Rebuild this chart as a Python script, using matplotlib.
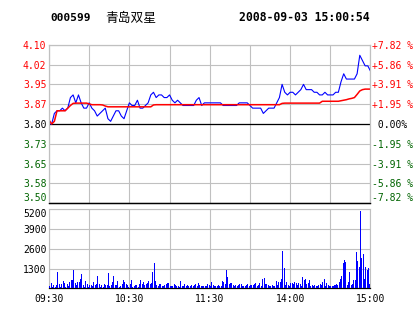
import numpy as np
import matplotlib
matplotlib.use("Agg")
import matplotlib.pyplot as plt

# ---------------- data ----------------
stock_code = "000599"
stock_name = "青岛双星"
stamp = "2008-09-03 15:00:54"
prev_close = 3.80

price_minutes = list(range(0, 241, 2))
price = [3.80, 3.80, 3.84, 3.85, 3.85, 3.86, 3.85, 3.86, 3.90, 3.91,
         3.88, 3.91, 3.88, 3.86, 3.86, 3.88, 3.86, 3.85, 3.83, 3.84,
         3.85, 3.86, 3.82, 3.81, 3.83, 3.85, 3.85, 3.83, 3.82, 3.85,
         3.88, 3.87, 3.87, 3.89, 3.86, 3.86, 3.87, 3.88, 3.91, 3.92,
         3.90, 3.91, 3.91, 3.90, 3.90, 3.91, 3.89, 3.88, 3.89, 3.88,
         3.87, 3.87, 3.87, 3.87, 3.87, 3.89, 3.90, 3.87, 3.88, 3.88,
         3.88, 3.88, 3.88, 3.88, 3.88, 3.87, 3.87, 3.87, 3.87, 3.87,
         3.87, 3.88, 3.88, 3.88, 3.88, 3.87, 3.86, 3.86, 3.86, 3.86,
         3.84, 3.85, 3.86, 3.86, 3.86, 3.88, 3.90, 3.95, 3.92, 3.91,
         3.92, 3.92, 3.91, 3.92, 3.93, 3.95, 3.93, 3.93, 3.93, 3.92,
         3.92, 3.91, 3.91, 3.92, 3.91, 3.91, 3.91, 3.92, 3.92, 3.96,
         3.99, 3.97, 3.97, 3.97, 3.97, 3.99, 4.06, 4.04, 4.02, 4.02,
         4.00]
avg_price = [3.815, 3.80, 3.81, 3.85, 3.85, 3.85, 3.85, 3.86, 3.87, 3.878,
             3.879, 3.879, 3.879, 3.879, 3.879, 3.876, 3.873, 3.873, 3.873, 3.873,
             3.872, 3.868, 3.865, 3.865, 3.865, 3.865, 3.865, 3.865, 3.865, 3.865,
             3.865, 3.865, 3.865, 3.865, 3.865, 3.865, 3.865, 3.865, 3.865, 3.872,
             3.873, 3.873, 3.873, 3.873, 3.873, 3.873, 3.873, 3.873, 3.873, 3.873,
             3.873, 3.873, 3.873, 3.873, 3.873, 3.873, 3.873, 3.873, 3.873, 3.873,
             3.873, 3.873, 3.873, 3.873, 3.873, 3.873, 3.873, 3.873, 3.873, 3.873,
             3.873, 3.873, 3.873, 3.873, 3.873, 3.873, 3.873, 3.873, 3.873, 3.873,
             3.873, 3.873, 3.873, 3.873, 3.873, 3.873, 3.873, 3.878, 3.879, 3.879,
             3.879, 3.879, 3.879, 3.879, 3.879, 3.879, 3.879, 3.879, 3.879, 3.879,
             3.879, 3.879, 3.886, 3.886, 3.886, 3.886, 3.886, 3.886, 3.886, 3.888,
             3.890, 3.892, 3.895, 3.897, 3.900, 3.912, 3.925, 3.930, 3.932, 3.932,
             3.932]
volume = [180, 330, 110, 220, 110, 220, 1050, 260, 110, 260,
          480, 330, 110, 260, 180, 400, 550, 550, 1210, 330,
          220, 400, 400, 610, 920, 220, 110, 480, 260, 110,
          220, 220, 180, 400, 220, 260, 810, 260, 110, 220,
          110, 260, 220, 220, 990, 150, 220, 400, 810, 220,
          220, 480, 110, 180, 260, 550, 400, 260, 220, 110,
          260, 550, 110, 180, 220, 220, 110, 260, 550, 260,
          400, 220, 310, 330, 480, 260, 370, 1050, 1650, 480,
          220, 180, 260, 260, 180, 130, 220, 260, 350, 350,
          130, 130, 130, 310, 220, 130, 130, 110, 480, 130,
          180, 260, 130, 220, 180, 130, 220, 130, 220, 310,
          130, 350, 220, 130, 130, 130, 130, 130, 260, 220,
          130, 400, 220, 130, 180, 130, 220, 180, 130, 480,
          400, 260, 1210, 770, 260, 330, 330, 220, 180, 220,
          180, 220, 260, 260, 180, 130, 180, 220, 310, 130,
          220, 220, 220, 260, 330, 130, 220, 350, 180, 610,
          660, 310, 310, 220, 130, 180, 220, 130, 130, 480,
          220, 400, 440, 610, 2460, 1360, 220, 400, 220, 130,
          330, 330, 260, 400, 330, 220, 330, 260, 130, 750,
          570, 610, 310, 330, 550, 130, 220, 130, 220, 180,
          180, 220, 260, 220, 400, 610, 130, 350, 220, 130,
          130, 130, 130, 220, 310, 220, 440, 610, 830, 1650,
          1860, 1710, 220, 440, 1050, 220, 260, 550, 550, 2370,
          1800, 1400, 5090, 1970, 2280, 610, 1400, 1190, 1320, 260]

price_ticks = [3.50, 3.575, 3.65, 3.725, 3.80, 3.875, 3.95, 4.025, 4.10]
price_labels = ["3.50", "3.58", "3.65", "3.73", "3.80", "3.87", "3.95", "4.02", "4.10"]
pct_labels = ["-7.82 %", "-5.86 %", "-3.91 %", "-1.95 %", " 0.00%",
              "+1.95 %", "+3.91 %", "+5.86 %", "+7.82 %"]
vol_ticks = [0, 1300, 2600, 3900, 5200]
vol_labels = ["", "1300", "2600", "3900", "5200"]
grid_minutes = list(range(0, 241, 30))
time_labels = ["09:30", "", "10:30", "", "11:30", "", "14:00", "", "15:00"]

# ---------------- style ----------------
RED = "#ff0000"
GREEN = "#006400"
BLUE = "#0000ff"
GRID = "#c0c0c0"
MONO = "DejaVu Sans Mono"
W, H = 414, 314


def rect(l, t, r, b):
    return [l / W, 1 - b / H, (r - l) / W, (b - t) / H]


def level_color(v):
    if abs(v - prev_close) < 1e-9:
        return "black"
    return RED if v > prev_close else GREEN


fig = plt.figure(figsize=(W / 100, H / 100), dpi=100)
fig.patch.set_facecolor("white")

ax = fig.add_axes(rect(49, 44.7, 370.5, 203.3))
axv = fig.add_axes(rect(49, 209.3, 370.5, 288.3))

# price panel
ax.plot(price_minutes, price, color=BLUE, lw=0.8, zorder=3)
ax.plot(price_minutes, avg_price, color=RED, lw=1.1, zorder=4)
ax.axhline(prev_close, color="black", lw=0.9, zorder=2)
ax.set_xlim(0, 240)
ax.set_ylim(3.50, 4.10)
ax.set_xticks(grid_minutes)
ax.set_xticklabels([])
ax.set_yticks(price_ticks)
ax.set_yticklabels(price_labels, fontsize=7, family=MONO)
ax.tick_params(length=0, pad=1.8)
ax.grid(True, color=GRID, lw=0.8, zorder=0)

axr = ax.twinx()
axr.set_ylim(ax.get_ylim())
axr.set_yticks(price_ticks)
axr.set_yticklabels(pct_labels, fontsize=7, family=MONO)
axr.tick_params(length=0, pad=1.0)

for a in (ax, axr):
    labs = a.get_yticklabels()
    for lab, v in zip(labs, price_ticks):
        lab.set_color(level_color(v))
    labs[0].set_va("bottom")
    for s in ("left", "right", "top"):
        a.spines[s].set_color(GRID)
        a.spines[s].set_linewidth(0.8)
    a.spines["bottom"].set_color("black")
    a.spines["bottom"].set_linewidth(0.9)

# volume panel
axv.bar(np.arange(len(volume)) + 0.5, volume, width=0.75, color=BLUE, zorder=3)
axv.set_xlim(0, 240)
axv.set_ylim(0, 5200)
axv.set_xticks(grid_minutes)
axv.set_xticklabels(time_labels, fontsize=7, family=MONO)
axv.set_yticks(vol_ticks)
axv.set_yticklabels(vol_labels, fontsize=7, family=MONO)
axv.get_yticklabels()[-1].set_va("top")
axv.tick_params(length=0, pad=1.8)
axv.tick_params(axis="x", pad=4)
axv.grid(True, color=GRID, lw=0.8, zorder=0)
for s in ("left", "right", "top"):
    axv.spines[s].set_color(GRID)
    axv.spines[s].set_linewidth(0.8)
axv.spines["bottom"].set_color("black")
axv.spines["bottom"].set_linewidth(0.9)

# header
fig.text(50 / W, 1 - 20.7 / H, stock_code, fontsize=8, family=MONO,
         weight="bold", va="baseline", ha="left")
fig.text(105 / W, 1 - 21.5 / H, stock_name, fontsize=9.2,
         family=["Noto Sans CJK SC", "DejaVu Sans"], va="baseline", ha="left")
fig.text(370 / W, 1 - 20.7 / H, stamp, fontsize=8.3, family=MONO,
         weight="bold", va="baseline", ha="right")

fig.savefig("out.png", dpi=100, facecolor="white")
